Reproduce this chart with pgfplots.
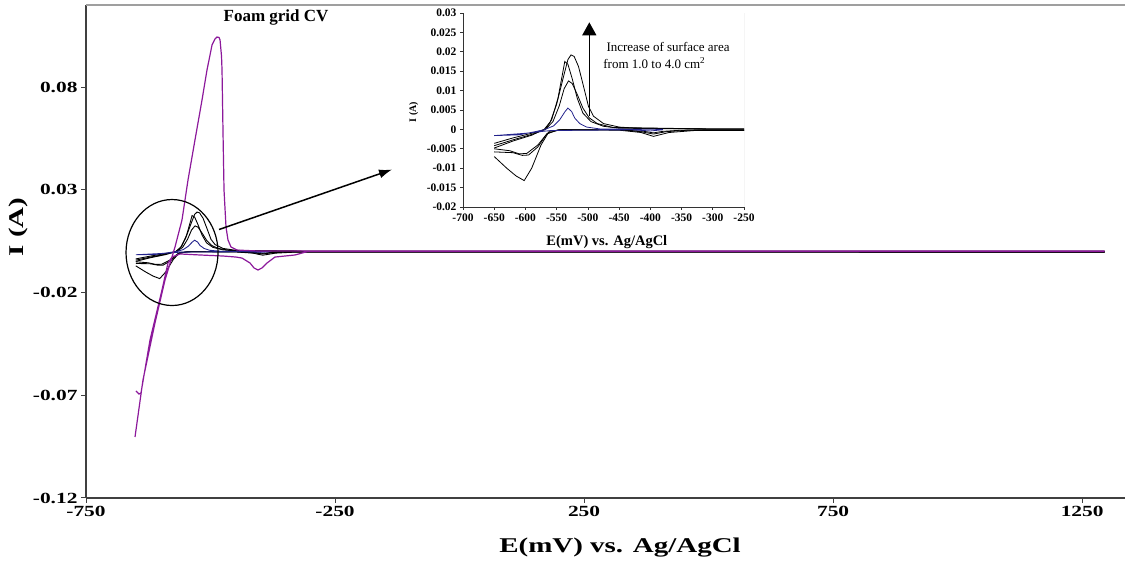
\documentclass[border=0pt]{standalone}
\usepackage{fontspec}
\setmainfont{Liberation Serif}
\newfontfamily\widefont[FakeStretch=1.38]{Liberation Serif}
\usepackage{pgfplots}
\pgfplotsset{compat=1.18}
\usepackage{pgfplotstable}
\usetikzlibrary{arrows.meta}
\definecolor{purp}{RGB}{140,25,155}
\definecolor{navy}{RGB}{35,35,140}

% Foam grid CV (purple)
\pgfplotstableread{
x y
-651.6 -0.0903
-635.6 -0.0625
-611.5 -0.0348
-591.4 -0.0139
-571.3 0.0022
-557.3 0.0153
-545.2 0.0348
-531.2 0.0543
-517.1 0.0737
-507.1 0.0883
-497.0 0.1005
-491.0 0.1035
-487.0 0.1044
-483.0 0.1042
-480.9 0.1030
-477.9 0.0950
-476.9 0.0883
-474.9 0.0577
-472.9 0.0299
-468.9 0.0119
-464.9 0.0056
-458.9 0.0022
-446.8 0.0007
-400.7 0.0002
1293.8 0.0002
1293.8 0.0000
-305.0 0.0000
-330.4 -0.0017
-370.5 -0.0027
-386.6 -0.0056
-396.6 -0.0080
-404.7 -0.0090
-412.7 -0.0080
-420.7 -0.0056
-436.8 -0.0032
-448.8 -0.0027
-474.9 -0.0022
-521.1 -0.0017
-561.3 -0.0012
-577.3 -0.0027
-585.4 -0.0056
-597.4 -0.0187
-621.5 -0.0431
-639.6 -0.0689
-643.6 -0.0694
-649.6 -0.0679
}\foam

% largest small-electrode CV
\pgfplotstableread{
x y
-650 -0.0048
-620 -0.0030
-590 -0.0015
-570 0.0000
-560 0.0020
-550 0.0065
-540 0.0130
-532 0.0180
-527 0.0192
-522 0.0188
-515 0.0162
-507 0.0111
-499 0.0059
-491 0.0034
-475 0.0015
-450 0.0006
-420 0.0003
-300 0.0001
1294 0.0001
1294 -0.0003
-330 -0.0003
-370 -0.0008
-395 -0.0018
-415 -0.0008
-450 -0.0002
-540 -0.0001
-562 -0.0005
-575 -0.0040
-590 -0.0100
-602 -0.0132
-615 -0.0120
-630 -0.0100
-650 -0.0070
}\cvA

\pgfplotstableread{
x y
-650 -0.0042
-620 -0.0027
-590 -0.0013
-568 0.0000
-558 0.0025
-548 0.0080
-541 0.0140
-537 0.0175
-532 0.0168
-525 0.0130
-517 0.0080
-508 0.0042
-495 0.0020
-475 0.0008
-450 0.0003
-300 0.0001
1294 0.0001
1294 -0.0003
-340 -0.0002
-375 -0.0006
-395 -0.0012
-415 -0.0006
-450 -0.0001
-545 -0.0001
-565 -0.0010
-580 -0.0045
-595 -0.0066
-605 -0.0067
-620 -0.0060
-650 -0.0058
}\cvB

\pgfplotstableread{
x y
-650 -0.0036
-620 -0.0022
-590 -0.0010
-568 0.0000
-556 0.0020
-546 0.0060
-538 0.0105
-531 0.0125
-525 0.0118
-517 0.0090
-508 0.0055
-498 0.0030
-485 0.0015
-460 0.0005
-300 0.0001
1294 0.0001
1294 -0.0003
-350 -0.0002
-380 -0.0005
-395 -0.0009
-410 -0.0005
-450 -0.0001
-548 -0.0001
-566 -0.0012
-580 -0.0040
-598 -0.0062
-610 -0.0063
-625 -0.0055
-650 -0.0050
}\cvC

\pgfplotstableread{
x y
-650 -0.0016
-610 -0.0014
-588 -0.0007
-570 -0.0001
-555 0.0009
-545 0.0025
-537 0.0045
-532 0.0055
-526 0.0046
-521 0.0029
-513 0.0015
-502 0.0006
-480 0.0001
-380 0.0000
-380 -0.0001
-400 -0.0004
-430 -0.0001
-560 -0.0003
-600 -0.0010
-650 -0.0016
}\cvD

\begin{document}
\begin{tikzpicture}[x=1pt,y=1pt]
\path[use as bounding box] (0,0) rectangle (1125,564);
\begin{axis}[name=main, at={(86pt,66pt)}, anchor=south west,
  width=1039pt, height=493pt, scale only axis, clip=false,
  xmin=-750, xmax=1336, ymin=-0.12, ymax=0.12,
  scaled x ticks=false, scaled y ticks=false,
  axis x line*=bottom, axis y line*=left,
  axis line style={-, line width=1.3pt, black!75},
  xtick={-750,-250,250,750,1250}, xticklabels={-750,-250,250,750,1250},
  ytick={-0.12,-0.07,-0.02,0.03,0.08}, yticklabels={-0.12,-0.07,-0.02,0.03,0.08},
  tick align=outside, major tick length=5pt, tick style={black!75, line width=1pt},
  tick label style={font=\widefont\bfseries\fontsize{15.5}{15.5}\selectfont},
  xlabel={E(mV) vs. Ag/AgCl}, ylabel={I (A)},
  label style={font=\widefont\bfseries\fontsize{21}{21}\selectfont},
  xlabel style={at={(axis description cs:0.514,-0.101)}, anchor=center},
  ylabel style={at={(axis description cs:-0.0654,0.55)}, anchor=center},
]
\draw[gray!75, line width=1.3pt] (rel axis cs:0,1) -- (rel axis cs:1,1);
\addplot[black, line width=0.9pt] table {\cvA};
\addplot[black, line width=0.9pt] table {\cvB};
\addplot[black, line width=0.9pt] table {\cvC};
\addplot[navy, line width=0.9pt] table {\cvD};
\addplot[purp, line width=1.2pt] table {\foam};
\draw[black, line width=1.2pt] (axis cs:-577.3,-0.0005) ellipse [x radius=46pt, y radius=53pt];
\draw[black, line width=1.5pt, -{Latex[length=13pt,width=9pt]}] (axis cs:-482.9,0.0107) -- (axis cs:-135.6,0.0399);
\node[anchor=west, font=\bfseries\fontsize{17}{17}\selectfont, inner sep=0pt] at (axis cs:-474,0.1137) {Foam grid CV};
\end{axis}

\begin{axis}[at={(463pt,357pt)}, anchor=south west,
  width=281pt, height=194pt, scale only axis,
  xmin=-700, xmax=-250, ymin=-0.02, ymax=0.03,
  scaled x ticks=false, scaled y ticks=false,
  axis x line*=bottom, axis y line*=left,
  axis line style={-, line width=0.9pt, black!80},
  xtick={-700,-650,-600,-550,-500,-450,-400,-350,-300,-250},
  xticklabels={-700,-650,-600,-550,-500,-450,-400,-350,-300,-250},
  ytick={-0.02,-0.015,-0.01,-0.005,0,0.005,0.01,0.015,0.02,0.025,0.03},
  yticklabels={-0.02,-0.015,-0.01,-0.005,0,0.005,0.01,0.015,0.02,0.025,0.03},
  tick align=outside, major tick length=3pt, tick style={black!80, line width=0.7pt},
  tick label style={font=\bfseries\fontsize{11.5}{11.5}\selectfont},
  xlabel={E(mV) vs. Ag/AgCl}, ylabel={I (A)},
  xlabel style={font=\bfseries\fontsize{14.5}{14.5}\selectfont, at={(axis description cs:0.512,-0.18)}, anchor=center},
  ylabel style={font=\bfseries\fontsize{10}{10}\selectfont, at={(axis description cs:-0.175,0.49)}, anchor=center},
]
\draw[gray!60, line width=0.9pt] (rel axis cs:1,0) -- (rel axis cs:1,1);
\addplot[black, line width=0.8pt] table {\cvA};
\addplot[black, line width=0.8pt] table {\cvB};
\addplot[black, line width=0.8pt] table {\cvC};
\addplot[navy, line width=0.8pt] table {\cvD};
\draw[black, line width=1.3pt, -{Triangle[length=13pt,width=14pt]}] (axis cs:-497.7,0.0034) -- (axis cs:-497.7,0.0276);
\node[anchor=west, font=\fontsize{13}{14}\selectfont, inner sep=0pt] at (axis cs:-470.5,0.0212) {Increase of surface area};
\node[anchor=west, font=\fontsize{13}{14}\selectfont, inner sep=0pt] at (axis cs:-475.5,0.0171) {from 1.0 to 4.0 cm\textsuperscript{2}};
\end{axis}
\end{tikzpicture}
\end{document}
